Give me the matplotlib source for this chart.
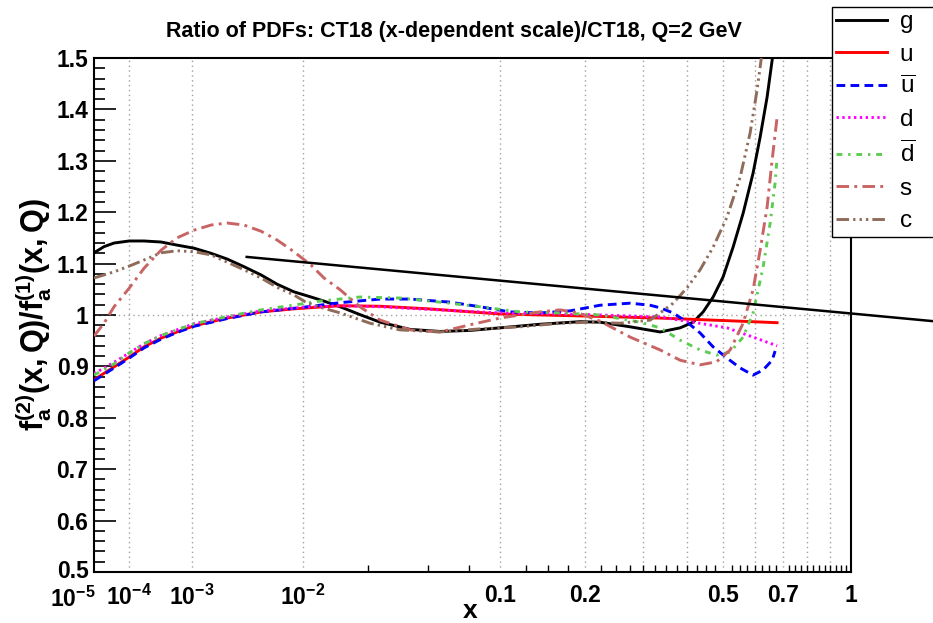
import numpy as np
import matplotlib
matplotlib.use("Agg")
import matplotlib.pyplot as plt
from matplotlib.lines import Line2D
import matplotlib.transforms as mtransforms

plt.rcParams['font.family'] = ['Liberation Sans', 'DejaVu Sans']
plt.rcParams['mathtext.fontset'] = 'custom'
plt.rcParams['mathtext.rm'] = 'Liberation Sans'
plt.rcParams['mathtext.it'] = 'Liberation Sans:italic'
plt.rcParams['mathtext.bf'] = 'Liberation Sans:bold'

# ratio curves (x, ratio)
g_x = [1e-5, 2.23e-5, 4.35e-5, 1e-4, 1.98e-4, 3.82e-4, 6.5e-4, 1.071e-3, 1.669e-3, 2.43e-3,
       3.5e-3, 4.89e-3, 6.54e-3, 8.72e-3, 0.01141, 0.01384, 0.0174, 0.0229, 0.0291, 0.0411,
       0.0566, 0.076, 0.1, 0.1406, 0.1923, 0.223, 0.2757, 0.3372, 0.3836, 0.4162,
       0.4426, 0.4703, 0.4991, 0.5294, 0.5612, 0.594, 0.6182, 0.6428, 0.6611, 0.675]
g_y = [1.121, 1.133, 1.140, 1.144, 1.144, 1.142, 1.136, 1.130, 1.120, 1.109,
       1.094, 1.078, 1.060, 1.045, 1.035, 1.027, 1.016, 1.000, 0.986, 0.972,
       0.968, 0.970, 0.975, 0.982, 0.987, 0.986, 0.977, 0.967, 0.975, 0.986,
       1.006, 1.035, 1.074, 1.132, 1.198, 1.276, 1.346, 1.424, 1.496, 1.560]

u_x = [1e-5, 4.35e-5, 1e-4, 1.98e-4, 3.82e-4, 6.5e-4, 1.071e-3, 2.43e-3, 4.89e-3, 8.72e-3,
       0.01384, 0.0174, 0.0291, 0.05, 0.1, 0.2, 0.3372, 0.4345, 0.55, 0.6794]
u_y = [0.874, 0.899, 0.918, 0.938, 0.955, 0.967, 0.979, 0.994, 1.006, 1.012,
       1.016, 1.018, 1.017, 1.012, 1.002, 0.998, 0.994, 0.991, 0.988, 0.985]

ubar_x = [1e-5, 4.35e-5, 1e-4, 1.98e-4, 3.82e-4, 6.5e-4, 1.071e-3, 2.43e-3, 4.89e-3, 0.0101,
          0.0174, 0.0291, 0.0411, 0.0626, 0.0835, 0.109, 0.1406, 0.178, 0.223, 0.2757,
          0.3156, 0.3372, 0.3668, 0.4009, 0.4345, 0.4703, 0.5111, 0.5516, 0.594, 0.6286,
          0.6611, 0.672]
ubar_y = [0.872, 0.897, 0.916, 0.936, 0.953, 0.966, 0.978, 0.993, 1.006, 1.015,
          1.024, 1.031, 1.031, 1.025, 1.016, 1.006, 1.004, 1.008, 1.019, 1.023,
          1.019, 1.014, 1.004, 0.986, 0.965, 0.938, 0.916, 0.897, 0.883, 0.893,
          0.912, 0.930]

d_x = [1e-5, 4.35e-5, 1e-4, 1.98e-4, 3.82e-4, 1.071e-3, 2.43e-3, 4.89e-3, 0.0101, 0.0174,
       0.0291, 0.05, 0.1, 0.2, 0.3372, 0.4162, 0.5111, 0.594, 0.6794]
d_y = [0.886, 0.908, 0.926, 0.944, 0.960, 0.983, 0.996, 1.008, 1.015, 1.018,
       1.016, 1.011, 1.004, 1.001, 0.996, 0.986, 0.975, 0.957, 0.940]

dbar_x = [1e-5, 4.35e-5, 1e-4, 1.98e-4, 3.82e-4, 1.071e-3, 2.43e-3, 4.89e-3, 0.0101, 0.013,
          0.0226, 0.0367, 0.0566, 0.0835, 0.119, 0.165, 0.223, 0.2952, 0.3372, 0.3836,
          0.4345, 0.4801, 0.5204, 0.5612, 0.594, 0.6286, 0.6538, 0.672, 0.6794]
dbar_y = [0.883, 0.905, 0.926, 0.944, 0.960, 0.983, 0.997, 1.010, 1.022, 1.027,
          1.035, 1.033, 1.025, 1.016, 1.006, 1.004, 1.000, 0.986, 0.975, 0.951,
          0.932, 0.922, 0.928, 0.957, 1.004, 1.093, 1.179, 1.257, 1.307]

s_x = [1e-5, 2.23e-5, 4.35e-5, 1e-4, 1.98e-4, 3.82e-4, 6.5e-4, 1.071e-3, 1.669e-3, 2.43e-3,
       3.5e-3, 4.89e-3, 6.54e-3, 8.72e-3, 0.01141, 0.01384, 0.0174, 0.0226, 0.0291, 0.0411,
       0.0566, 0.076, 0.1, 0.1406, 0.165, 0.19, 0.223, 0.2757, 0.3372, 0.3836,
       0.4345, 0.4801, 0.5204, 0.5612, 0.594, 0.6182, 0.6428, 0.6611, 0.6794]
s_y = [0.959, 0.984, 1.016, 1.052, 1.091, 1.126, 1.150, 1.165, 1.175, 1.179,
       1.175, 1.163, 1.146, 1.123, 1.097, 1.072, 1.049, 1.016, 0.990, 0.971,
       0.967, 0.981, 0.994, 1.006, 1.010, 1.004, 0.988, 0.957, 0.932, 0.912,
       0.903, 0.909, 0.932, 0.984, 1.049, 1.126, 1.210, 1.302, 1.385]

c_x = [1e-5, 4.35e-5, 1e-4, 1.98e-4, 3.82e-4, 6.5e-4, 1.071e-3, 1.669e-3, 2.43e-3, 3.5e-3,
       4.89e-3, 6.54e-3, 8.72e-3, 0.0105, 0.01384, 0.0174, 0.0257, 0.0367, 0.0566, 0.0835,
       0.119, 0.165, 0.2072, 0.2571, 0.3156, 0.3372, 0.3668, 0.4009, 0.4345, 0.4703,
       0.5111, 0.5516, 0.5841, 0.6077, 0.6215, 0.635]
c_y = [1.072, 1.084, 1.095, 1.107, 1.121, 1.125, 1.123, 1.117, 1.103, 1.088,
       1.072, 1.054, 1.039, 1.025, 1.013, 1.004, 0.984, 0.971, 0.967, 0.973,
       0.977, 0.984, 0.986, 0.984, 0.990, 1.004, 1.023, 1.053, 1.088, 1.132,
       1.191, 1.268, 1.354, 1.438, 1.496, 1.560]

# stray straight line in the original (runs past the frame)
extra_x = [0.0037, 1.477]
extra_y = [1.113, 0.988]

xtick_pos = [1e-5, 1e-4, 1e-3, 1e-2, 0.1, 0.2, 0.5, 0.7, 1.0]
xtick_lab = [r'$\mathbf{10^{-5}}$', r'$\mathbf{10^{-4}}$', r'$\mathbf{10^{-3}}$',
             r'$\mathbf{10^{-2}}$', '0.1', '0.2', '0.5', '0.7', '1']
xgrid = [1e-4, 1e-3, 1e-2, 0.1, 0.2, 0.3, 0.4, 0.5, 0.6, 0.7, 0.8, 0.9]


def fwd(x):
    x = np.asarray(x, dtype=float)
    return np.sign(x) * np.abs(x) ** 0.25


def inv(u):
    u = np.asarray(u, dtype=float)
    return np.sign(u) * np.abs(u) ** 4


fig = plt.figure(figsize=(9.33, 6.23), dpi=100)
ax = fig.add_axes([94 / 933, 1 - 572 / 623, (851 - 94) / 933, (572 - 58) / 623])
ax.set_xscale('function', functions=(fwd, inv))
ax.set_xlim(1e-5, 1.0)
ax.set_ylim(0.5, 1.5)

for xv in xgrid:
    ax.axvline(xv, color='#a0a0a0', lw=1, ls=(0, (1, 2.5)), zorder=1)
ax.axhline(1.0, color='#a0a0a0', lw=1, ls=(0, (1, 2.5)), zorder=1)

lw = 2.1
curves = [
    (g_x, g_y, 'black', '-', 'g'),
    (u_x, u_y, '#ff0000', '-', 'u'),
    (ubar_x, ubar_y, '#0000ff', (0, (3, 1.8)), r'$\overline{\mathrm{u}}$'),
    (d_x, d_y, '#ff00ff', (0, (0.8, 1.2)), 'd'),
    (dbar_x, dbar_y, '#5ccd52', (0, (2, 2, 0.8, 2)), r'$\overline{\mathrm{d}}$'),
    (s_x, s_y, '#c96464', (0, (4.3, 1.8, 1, 1.8)), 's'),
    (c_x, c_y, '#8f6b5a', (0, (4.3, 1.4, 0.8, 1.4, 0.8, 1.4, 0.8, 1.4)), 'c'),
]
handles = []
for xs, ys, col, ls, lab in curves:
    ax.plot(xs, ys, color=col, ls=ls, lw=lw, zorder=3)
    handles.append(Line2D([], [], color=col, ls=ls, lw=lw, label=lab))

ax.plot(extra_x, extra_y, color='black', lw=1.8, clip_on=False, zorder=4)

# ticks
ax.set_xticks(xtick_pos)
ax.set_xticklabels(xtick_lab)
ax.set_xticks(np.arange(0.025, 1.0, 0.025), minor=True)
ax.tick_params(axis='x', which='major', length=0, pad=9, labelsize=16.5)
ax.tick_params(axis='x', which='minor', length=5, width=1, direction='in')
for t in ax.get_xticklabels():
    t.set_fontweight('bold')
lab0 = ax.get_xticklabels()[0]
lab0.set_transform(lab0.get_transform() + mtransforms.ScaledTranslation(-0.21, -0.02, fig.dpi_scale_trans))

ax.set_yticks(np.arange(0.5, 1.501, 0.1))
ax.set_yticklabels(['0.5', '0.6', '0.7', '0.8', '0.9', '1', '1.1', '1.2', '1.3', '1.4', '1.5'])
ax.set_yticks(np.arange(0.5, 1.501, 0.02), minor=True)
ax.tick_params(axis='y', which='major', length=16, width=1.2, direction='in', pad=4, labelsize=16.5)
ax.tick_params(axis='y', which='minor', length=8, width=1.2, direction='in')
for t in ax.get_yticklabels():
    t.set_fontweight('bold')
laby = ax.get_yticklabels()[0]
laby.set_transform(laby.get_transform() + mtransforms.ScaledTranslation(0, 0.03, fig.dpi_scale_trans))

for sp in ax.spines.values():
    sp.set_linewidth(1.5)

ax.set_xlabel('x', fontsize=19, fontweight='bold')
ax.xaxis.set_label_coords(0.497, -0.052)
ax.set_ylabel(r'$\mathbf{f_a^{(2)}(x,Q)/f_a^{(1)}(x,Q)}$', fontsize=22)
ax.yaxis.set_label_coords(-0.053, 0.5)

fig.text(454 / 933, 1 - 31 / 623, 'Ratio of PDFs: CT18 (x-dependent scale)/CT18, Q=2 GeV',
         ha='center', va='center', fontsize=15.5, fontweight='bold')

leg = fig.legend(handles=handles, loc='upper left',
                 bbox_to_anchor=(832 / 933, 1 - 238 / 623, 0.12, 231 / 623),
                 bbox_transform=fig.transFigure, mode='expand', fontsize=17.5,
                 handlelength=2.1, handletextpad=0.5, labelspacing=0.43, borderpad=0.18,
                 borderaxespad=0, fancybox=False, framealpha=1, edgecolor='black')
leg.get_frame().set_linewidth(1.0)

fig.savefig('out.png', dpi=100)
